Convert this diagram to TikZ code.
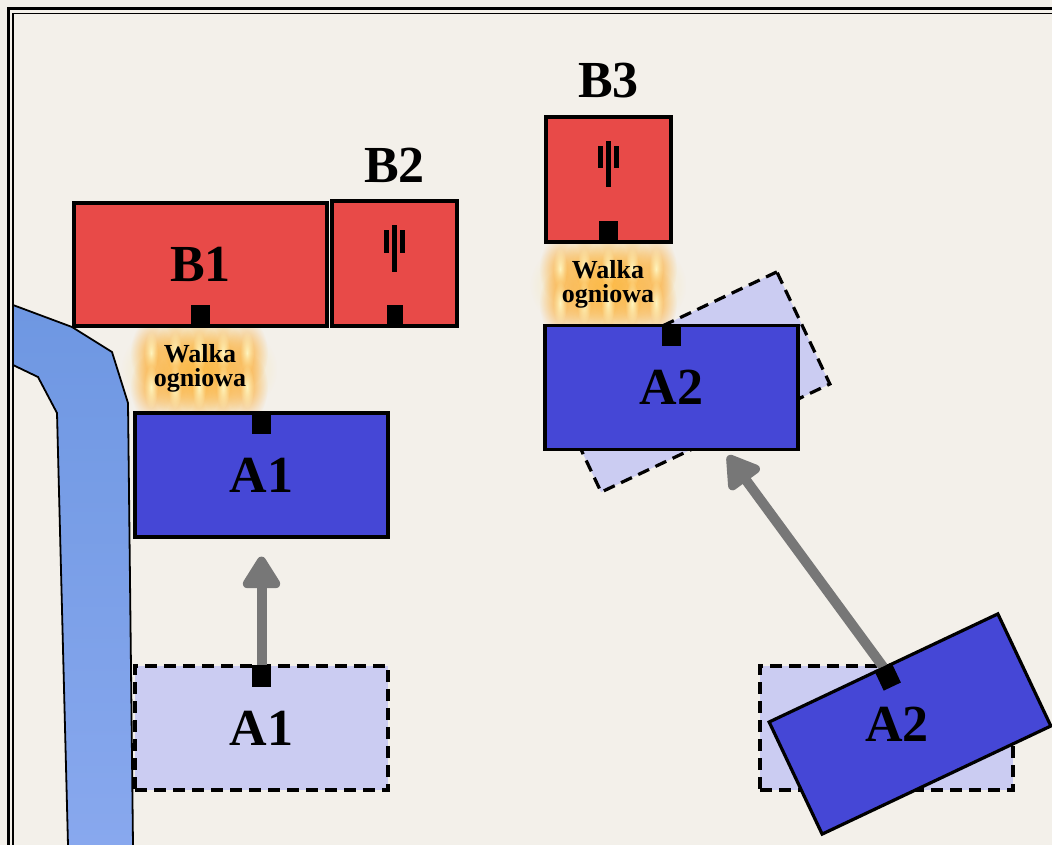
\documentclass[tikz,border=0pt]{standalone}
\usepackage{fontspec}
\setmainfont{Liberation Serif}
\usetikzlibrary{arrows.meta, positioning, calc, fadings}

\definecolor{paper}{HTML}{F3F0EA}
\definecolor{redunit}{HTML}{E84A48}
\definecolor{blueunit}{HTML}{4547D6}
\definecolor{ghostunit}{HTML}{CBCCF2}
\definecolor{rivertop}{HTML}{6E97E2}
\definecolor{riverbottom}{HTML}{88A8EE}
\definecolor{movegray}{HTML}{777777}

\tikzfading[name=glowfade, inner color=transparent!0, outer color=transparent!100]

\tikzset{
    % flames behind the fire-fight label
    flames/.pic={
        \fill[orange!50!yellow!60!white, opacity=0.75, path fading=glowfade] (-78,-55) rectangle (78,55);
        \foreach \dx in {-48,-24,0,24,48} {
            \foreach \dy in {-16,18} {
                \fill[orange!85!yellow, opacity=0.6, path fading=glowfade] (\dx,\dy) ellipse (21 and 34);
                \fill[yellow!20!white, opacity=0.9, path fading=glowfade] (\dx,\dy) ellipse (7 and 22);
            }
        }
    },
    % cavalry mark
    lances/.pic={
        \fill (-3,-38) rectangle (2,8);
        \fill (-11,-33) rectangle (-6,-11);
        \fill (5,-33) rectangle (10,-11);
    },
}

\begin{document}
\begin{tikzpicture}[
    x=1pt, y=-1pt,
    unit/.style={rectangle, draw=black, line width=3.2pt, inner sep=0pt, font=\fontsize{52}{58}\selectfont\bfseries},
    enemy/.style={unit, fill=redunit},
    friend/.style={unit, fill=blueunit, minimum width=253pt, minimum height=124pt},
    ghost/.style={unit, fill=ghostunit, dash pattern=on 12pt off 7pt, minimum width=253pt, minimum height=124pt},
    front/.style={rectangle, fill=black, inner sep=0pt, minimum width=19pt, minimum height=22pt},
    unitname/.style={inner sep=0pt, font=\fontsize{52}{58}\selectfont\bfseries},
    firetext/.style={align=center, inner sep=0pt, font=\fontsize{26}{24}\selectfont\bfseries},
    move/.style={draw=movegray, line width=10pt, line cap=round, -{Triangle[length=36pt, width=42pt, round]}},
]

    % paper
    \fill[paper] (0,0) rectangle (1052,845);
    \useasboundingbox (0,0) rectangle (1052,845);

    % river
    \fill[top color=rivertop, bottom color=riverbottom]
        (13,305) -- (72,327) -- (112,352) -- (128,403) -- (133,845)
        -- (68,845) -- (57,413) -- (38,377) -- (13,365) -- cycle;
    \draw[line width=1.8pt] (13,305) -- (72,327) -- (112,352) -- (128,403) -- (133,845);
    \draw[line width=1.8pt] (13,365) -- (38,377) -- (57,413) -- (68,845);

    % fire fights
    \pic at (199,369) {flames};
    \pic at (608,285) {flames};

    % earlier positions
    \node (a1start) [ghost] at (261.5,728) {A1};
    \node (a2start) [ghost] at (886.5,728) {};
    \node (a2mid) [ghost, rotate=25.3] at (689,382) {};

    % blue units
    \node (a1) [friend] at (261.5,475) {A1};
    \node (a2) [friend] at (671.5,387.5) {A2};
    \node (a2turn) [friend, rotate=25.3] at (910,724) {};
    \node (a2turnname) [unitname] at ([xshift=-13pt]a2turn.center) {A2};

    % red units
    \node (b1) [enemy, minimum width=253pt, minimum height=123pt] at (200.5,264.5) {B1};
    \node (b2) [enemy, minimum width=125pt, minimum height=125pt] at (394.5,263.5) {};
    \node (b3) [enemy, minimum width=125pt, minimum height=125pt] at (608.5,179.5) {};
    \pic at (b2.center) {lances};
    \pic at (b3.center) {lances};
    \node (b2name) [unitname, above=17pt of b2] {B2};
    \node (b3name) [unitname, above=17pt of b3] {B3};

    % fire labels
    \node (fire1) [firetext] at (200,368) {Walka\\ogniowa};
    \node (fire2) [firetext] at (608,284) {Walka\\ogniowa};

    % moves
    \draw[move, shorten >=18pt] (a1start.north) -- (a1.south);
    \draw[move, shorten >=20pt] (a2turn.north) -- (a2mid.south);

    % fronts
    \node (a1startfront) [front, anchor=north] at (a1start.north) {};
    \node (a1front) [front, anchor=north] at (a1.north) {};
    \node (a2front) [front, anchor=north] at (a2.north) {};
    \node (a2turnfront) [front, rotate=25.3, anchor=north] at (a2turn.north) {};
    \node (b1front) [front, anchor=south] at (b1.south) {};
    \node (b2front) [front, minimum width=16pt, anchor=south] at (b2.south) {};
    \node (b3front) [front, anchor=south] at (b3.south) {};

    % frame
    \draw[line width=3pt] (8.5,845) -- (8.5,8.5) -- (1052,8.5);
    \draw[line width=1.6pt] (13.2,845) -- (13.2,13.5) -- (1052,13.5);

\end{tikzpicture}
\end{document}
